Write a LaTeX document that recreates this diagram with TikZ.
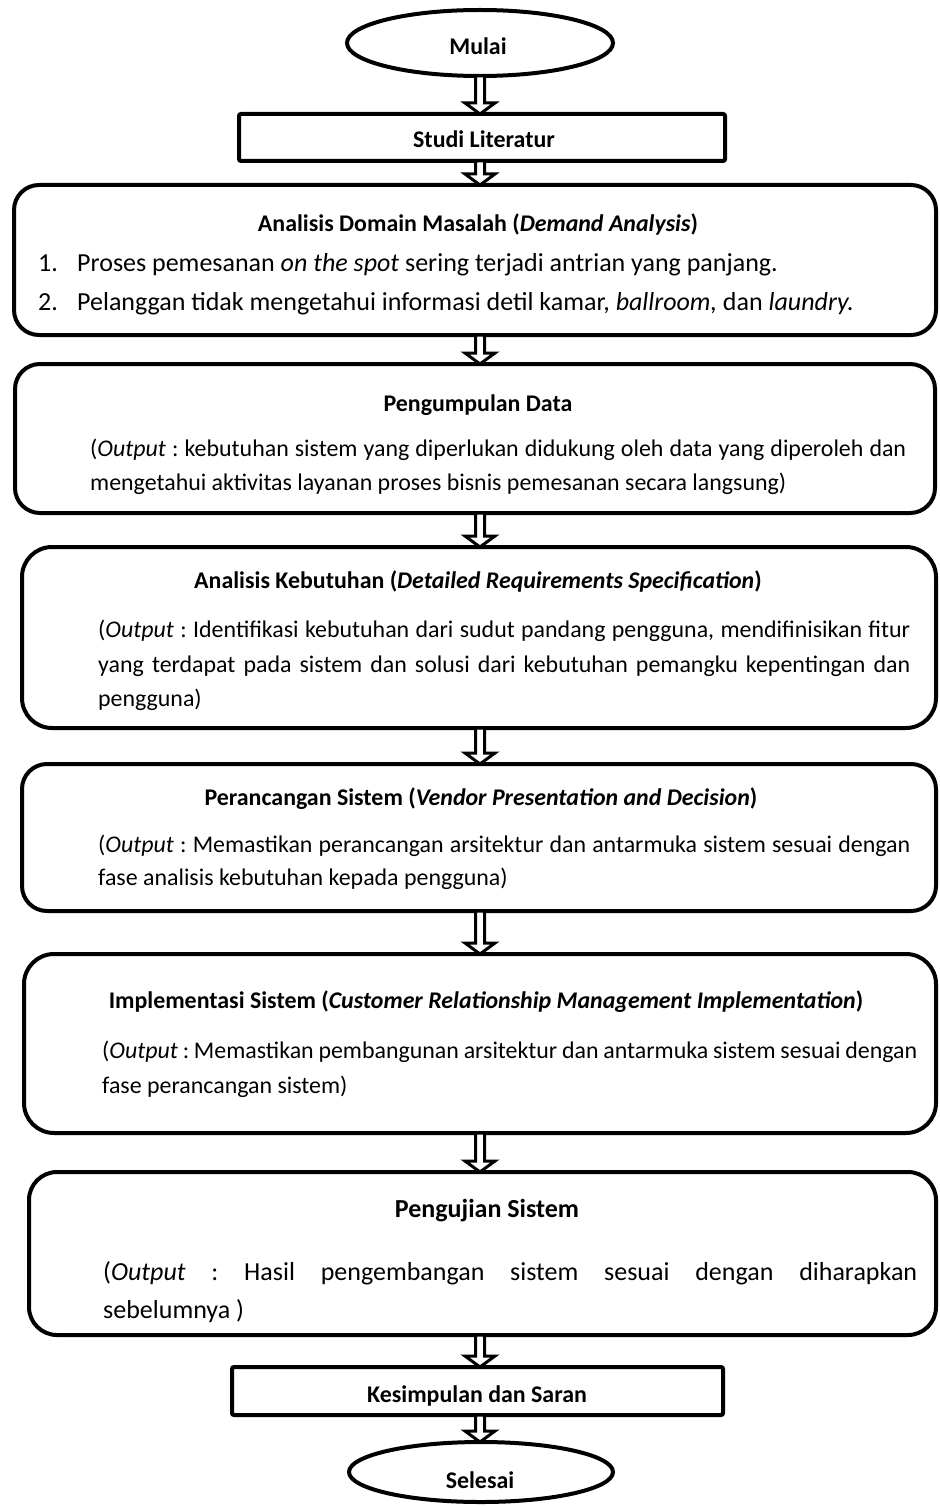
\documentclass[tikz,border=0pt]{standalone}
\usepackage{fontspec}
\setmainfont{Carlito}
\frenchspacing
\usetikzlibrary{shapes.geometric,calc}
\newcommand\jl[2]{\hbox to #1{#2}}
\newcommand\flowarrow[2]{%
  \draw[barrow] let \p1=(#1.south -| axis), \p2=(#2.north -| axis) in
  (\x1-4.5pt,\y1) -- (\x1-4.5pt,\y2+11pt) -- (\x1-15pt,\y2+11pt) -- (\x2,\y2)
  -- (\x1+15pt,\y2+11pt) -- (\x1+4.5pt,\y2+11pt) -- (\x1+4.5pt,\y1) -- cycle;}
\tikzset{
  box/.style={draw, line width=4pt, fill=white, inner sep=0pt, outer sep=0pt, rounded corners=#1},
  box/.default=25pt,
  term/.style={draw, ellipse, line width=4pt, fill=white, inner sep=0pt, outer sep=0pt},
  hd/.style={anchor=base, inner sep=0pt, font=\bfseries\fontsize{23.9}{28}\selectfont},
  hdbig/.style={anchor=base, inner sep=0pt, font=\bfseries\fontsize{26}{30}\selectfont},
  tx/.style={anchor=base west, inner sep=0pt, font=\fontsize{26}{35}\selectfont},
  txs/.style={anchor=base west, inner sep=0pt, font=\fontsize{23.9}{33}\selectfont},
  barrow/.style={draw, line width=3pt, fill=white, line join=miter}
}
\begin{document}
\begin{tikzpicture}[x=1pt,y=-1pt]
\useasboundingbox[fill=white] (0,0) rectangle (939,1506);
\coordinate (axis) at (480,0);
% shapes
\node[term, minimum width=266pt, minimum height=66pt] (mulai) at (480,43) {};
\node[box=2pt, minimum width=486pt, minimum height=47pt] (studi) at (482,137.5) {};
\node[box=25pt, minimum width=922pt, minimum height=150pt] (domain) at (475,260) {};
\node[box=25pt, minimum width=920pt, minimum height=149pt] (data) at (475,438.5) {};
\node[box=30pt, minimum width=914pt, minimum height=181pt] (kebutuhan) at (479,637.5) {};
\node[box=25pt, minimum width=914pt, minimum height=147pt] (rancang) at (479,837.5) {};
\node[box=30pt, minimum width=912pt, minimum height=179pt] (impl) at (480,1043.5) {};
\node[box=28pt, minimum width=907pt, minimum height=163pt] (uji) at (482.5,1253.5) {};
\node[box=2pt, minimum width=491pt, minimum height=48pt] (simpul) at (477.5,1391) {};
\node[term, minimum width=264pt, minimum height=60pt] (selesai) at (481,1472) {};
% arrows
\flowarrow{mulai}{studi}
\flowarrow{studi}{domain}
\flowarrow{domain}{data}
\flowarrow{data}{kebutuhan}
\flowarrow{kebutuhan}{rancang}
\flowarrow{rancang}{impl}
\flowarrow{impl}{uji}
\flowarrow{uji}{simpul}
\flowarrow{simpul}{selesai}
% texts
\node[hd] (tMulai) at (478,55) {Mulai};
\node[hd] (tStudi) at (484,148) {Studi Literatur};
\node[hd] (tDomain) at (478,232) {Analisis Domain Masalah (\textit{Demand Analysis})};
\node[tx] (tD1n) at (38,272) {1.};
\node[tx] (tD1) at (77,272) {Proses pemesanan \textit{on the spot} sering terjadi antrian yang panjang.};
\node[tx] (tD2n) at (38,310) {2.};
\node[tx] (tD2) at (77,310) {Pelanggan tidak mengetahui informasi detil kamar, \textit{ballroom,} dan \textit{laundry.}};
\node[hd] (tData) at (478,411) {Pengumpulan Data};
\node[txs] (tData1) at (90,456) {\jl{816pt}{(\textit{Output} : kebutuhan sistem yang diperlukan didukung oleh data yang diperoleh dan}};
\node[txs] (tData2) at (90,490) {mengetahui aktivitas layanan proses bisnis pemesanan secara langsung)};
\node[hd] (tKeb) at (478,588) {Analisis Kebutuhan (\textit{Detailed Requirements Specification})};
\node[txs] (tKeb1) at (98,637) {\jl{812pt}{(\textit{Output} : Identifikasi kebutuhan dari sudut pandang pengguna, mendifinisikan fitur}};
\node[txs] (tKeb2) at (98,672) {\jl{812pt}{yang terdapat pada sistem dan solusi dari kebutuhan pemangku kepentingan dan}};
\node[txs] (tKeb3) at (98,706) {pengguna)};
\node[hd] (tRan) at (481,805) {Perancangan Sistem (\textit{Vendor Presentation and Decision})};
\node[txs] (tRan1) at (98,852) {\jl{812pt}{(\textit{Output} : Memastikan perancangan arsitektur dan antarmuka sistem sesuai dengan}};
\node[txs] (tRan2) at (98,885) {fase analisis kebutuhan kepada pengguna)};
\node[hd] (tImp) at (486,1008) {Implementasi Sistem (\textit{Customer Relationship Management Implementation})};
\node[txs] (tImp1) at (102,1058) {\jl{815pt}{(\textit{Output} : Memastikan pembangunan arsitektur dan antarmuka sistem sesuai dengan}};
\node[txs] (tImp2) at (102,1093) {fase perancangan sistem)};
\node[hdbig] (tUji) at (487,1217) {Pengujian Sistem};
\node[tx] (tUji1) at (103,1280) {\jl{814pt}{(\textit{Output} : Hasil pengembangan sistem sesuai dengan diharapkan}};
\node[tx] (tUji2) at (103,1318) {sebelumnya )};
\node[hd] (tSimpul) at (477,1402) {Kesimpulan dan Saran};
\node[hd] (tSelesai) at (480,1488) {Selesai};
\end{tikzpicture}
\end{document}
